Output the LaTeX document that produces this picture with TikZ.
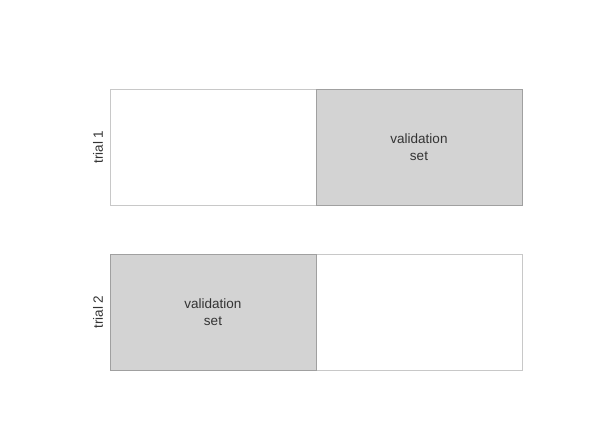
\documentclass[tikz,border=0pt]{standalone}
\usepackage{fontspec}
\setmainfont{Liberation Sans}
\usetikzlibrary{positioning}
\definecolor{textgray}{HTML}{333333}
\definecolor{boxline}{HTML}{C8C8C8}
\definecolor{valfill}{HTML}{D3D3D3}
\definecolor{valline}{HTML}{A0A0A0}

\begin{document}
\begin{tikzpicture}[
    x=1pt, y=-1pt,
    node distance = 0pt,
    minimum width = 206pt,
    minimum height = 116pt,
    inner sep = 0pt,
    outer sep = 0pt,
    font = \fontsize{13.5}{17}\selectfont,
    text = textgray,
    part/.style = {draw=boxline, fill=white, line width=0.9pt},
    valpart/.style = {draw=valline, fill=valfill, line width=0.9pt, align=center},
    trial/.style = {rotate=90, anchor=south, minimum width=0pt, minimum height=0pt, inner sep=7pt}]
    \useasboundingbox (0,0) rectangle (614,426);
    % NODES
    % trial 1
    \node[part] (t1train) at (213,147) {};
    \node[valpart, right = of t1train] (t1val) {validation\\set};
    % trial 2
    \node[part] (t2train) at (419,312) {};
    \node[valpart, left = of t2train] (t2val) {validation\\set};
    % row labels
    \node[trial] (lab1) at (t1train.west) {trial 1};
    \node[trial] (lab2) at (t2val.west) {trial 2};
  \end{tikzpicture}
\end{document}
